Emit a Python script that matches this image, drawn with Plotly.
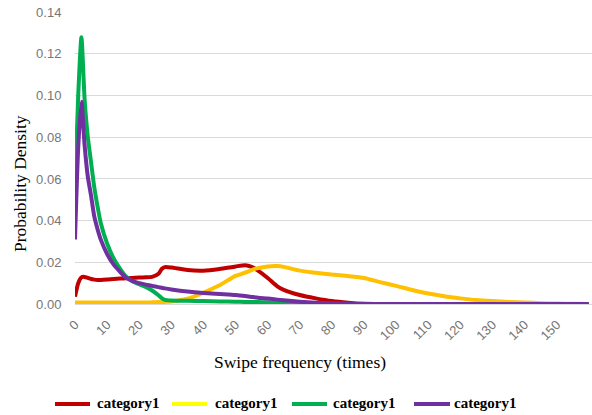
import plotly.graph_objects as go

# Shared x grid (swipe frequency, times)
x_vals = [0, 1, 2, 3, 4, 5, 6, 7, 8, 10, 12, 14, 16, 18, 20, 22, 24, 26, 27, 28, 30,
          35, 40, 45, 50, 53, 55, 57, 60, 63, 65, 70, 75, 80, 85, 90, 95, 100, 105,
          110, 115, 120, 125, 130, 135, 140, 145, 150, 155, 160]

red_vals = [0.0035, 0.010, 0.0128, 0.013, 0.0125, 0.012, 0.0117, 0.0115, 0.0115, 0.0117,
            0.012, 0.0122, 0.0123, 0.0125, 0.0127, 0.0128, 0.013, 0.0145, 0.0168, 0.0177,
            0.0175, 0.0163, 0.016, 0.0168, 0.018, 0.0186, 0.0178, 0.016, 0.0125, 0.0085,
            0.0068, 0.0043, 0.0027, 0.0014, 0.0006, 0.0001, 0, 0, 0, 0, 0, 0, 0, 0, 0, 0,
            0, 0, 0, 0]

yellow_vals = [0.0007, 0.0007, 0.0007, 0.0007, 0.0007, 0.0007, 0.0007, 0.0007, 0.0007,
               0.0007, 0.0007, 0.0007, 0.0007, 0.0007, 0.0007, 0.0007, 0.0008, 0.0009,
               0.0009, 0.001, 0.0012, 0.0025, 0.0055, 0.009, 0.0135, 0.015, 0.0163,
               0.0172, 0.018, 0.0182, 0.0178, 0.016, 0.015, 0.0141, 0.0134, 0.0125,
               0.0105, 0.0087, 0.0067, 0.005, 0.0037, 0.0027, 0.0019, 0.0014, 0.001,
               0.0007, 0.0004, 0.0002, 0.0001, 0]

green_vals = [0.056, 0.100, 0.128, 0.098, 0.080, 0.068, 0.056, 0.047, 0.039, 0.029,
              0.022, 0.017, 0.013, 0.0108, 0.0095, 0.0082, 0.0065, 0.0042, 0.0028, 0.002,
              0.0017, 0.0015, 0.0014, 0.0012, 0.0011, 0.001, 0.001, 0.0009, 0.0008,
              0.0007, 0.0006, 0.0004, 0.0002, 0, 0, 0, 0, 0, 0, 0, 0, 0, 0, 0, 0, 0,
              0, 0, 0, 0]

purple_vals = [0.031, 0.075, 0.097, 0.076, 0.061, 0.052, 0.042, 0.036, 0.031, 0.024,
               0.019, 0.0155, 0.0125, 0.011, 0.0100, 0.0093, 0.0087, 0.0081, 0.0078,
               0.0075, 0.007, 0.006, 0.0053, 0.0048, 0.0043, 0.0038, 0.0034, 0.003,
               0.0026, 0.0021, 0.0018, 0.0011, 0.0006, 0.0003, 0.0001, 0, 0, 0, 0, 0,
               0, 0, 0, 0, 0, 0, 0, 0, 0, 0]

series_names = ["category1", "category1", "category1", "category1"]
line_colors = ["#C00000", "#FFC000", "#00B050", "#7030A0"]
legend_colors = ["#C00000", "#FFFF00", "#00B050", "#7030A0"]
x_tick_vals = list(range(0, 151, 10))
y_tick_vals = [0.00, 0.02, 0.04, 0.06, 0.08, 0.10, 0.12, 0.14]

FIG_W, FIG_H = 592, 415
# plot-area geometry in window pixels
L, T, W, H = 75, 12, 517, 292


def px_x(px):
    return (px - L) / W


def px_y(py):
    return (T + H - py) / H


fig = go.Figure()
for vals, color, name in zip([red_vals, yellow_vals, green_vals, purple_vals],
                             line_colors, series_names):
    fig.add_trace(go.Scatter(x=x_vals, y=vals, mode="lines", name=name,
                             line=dict(color=color, width=4, shape="spline", smoothing=0.6),
                             showlegend=False, hoverinfo="skip"))

# manual legend (keys + labels) below the axis title
legend_keys = [(55, 90, 95), (172, 207, 213), (292, 327, 331), (414, 450, 452)]
shapes = []
annotations = []
ly = 404
for (x0, x1, tx), color, name in zip(legend_keys, legend_colors, series_names):
    shapes.append(dict(type="line", xref="paper", yref="paper",
                       x0=px_x(x0), x1=px_x(x1), y0=px_y(ly), y1=px_y(ly),
                       line=dict(color=color, width=4)))
    annotations.append(dict(text=name, xref="paper", yref="paper",
                            x=px_x(tx), y=px_y(ly - 1), xanchor="left", yanchor="middle",
                            showarrow=False,
                            font=dict(family="Liberation Serif, Times New Roman, serif",
                                      size=15, color="black", weight="bold")))

annotations.append(dict(text="Probability Density", xref="paper", yref="paper",
                        x=px_x(20), y=px_y(184), xanchor="center", yanchor="middle",
                        textangle=-90, showarrow=False,
                        font=dict(family="Liberation Serif, Times New Roman, serif",
                                  size=17.5, color="black")))
annotations.append(dict(text="Swipe frequency (times)", xref="paper", yref="paper",
                        x=px_x(300), y=px_y(362), xanchor="center", yanchor="middle",
                        showarrow=False,
                        font=dict(family="Liberation Serif, Times New Roman, serif",
                                  size=17.5, color="black")))

tick_font = dict(family="Liberation Sans, Arial, sans-serif", size=13, color="#767676")
fig.update_layout(
    width=FIG_W, height=FIG_H,
    margin=dict(l=L, r=FIG_W - L - W, t=T, b=FIG_H - T - H, autoexpand=False),
    paper_bgcolor="white", plot_bgcolor="white",
    showlegend=False,
    xaxis=dict(range=[0, 161], tickvals=x_tick_vals, ticktext=[str(v) for v in x_tick_vals],
               tickangle=-45, showgrid=False, zeroline=False, showline=True,
               linecolor="#D9D9D9", linewidth=1, ticks="outside", ticklen=7,
               tickcolor="rgba(0,0,0,0)", tickfont=tick_font, automargin=False,
               ticklabeloverflow="allow"),
    yaxis=dict(range=[0, 0.1401], tickvals=y_tick_vals,
               ticktext=["%.2f" % v for v in y_tick_vals],
               showgrid=True, gridcolor="#D9D9D9", gridwidth=1, zeroline=False,
               showline=False, ticks="outside", ticklen=10, tickcolor="rgba(0,0,0,0)",
               tickfont=tick_font, automargin=False, ticklabeloverflow="allow"),
    shapes=shapes,
    annotations=annotations,
)

# remove the browser's default 8px body margin so the figure fills the window
fig.write_html("out.html",
               config={"displayModeBar": False, "staticPlot": True},
               post_script="document.body.style.margin='0px';document.body.style.overflow='hidden';")
